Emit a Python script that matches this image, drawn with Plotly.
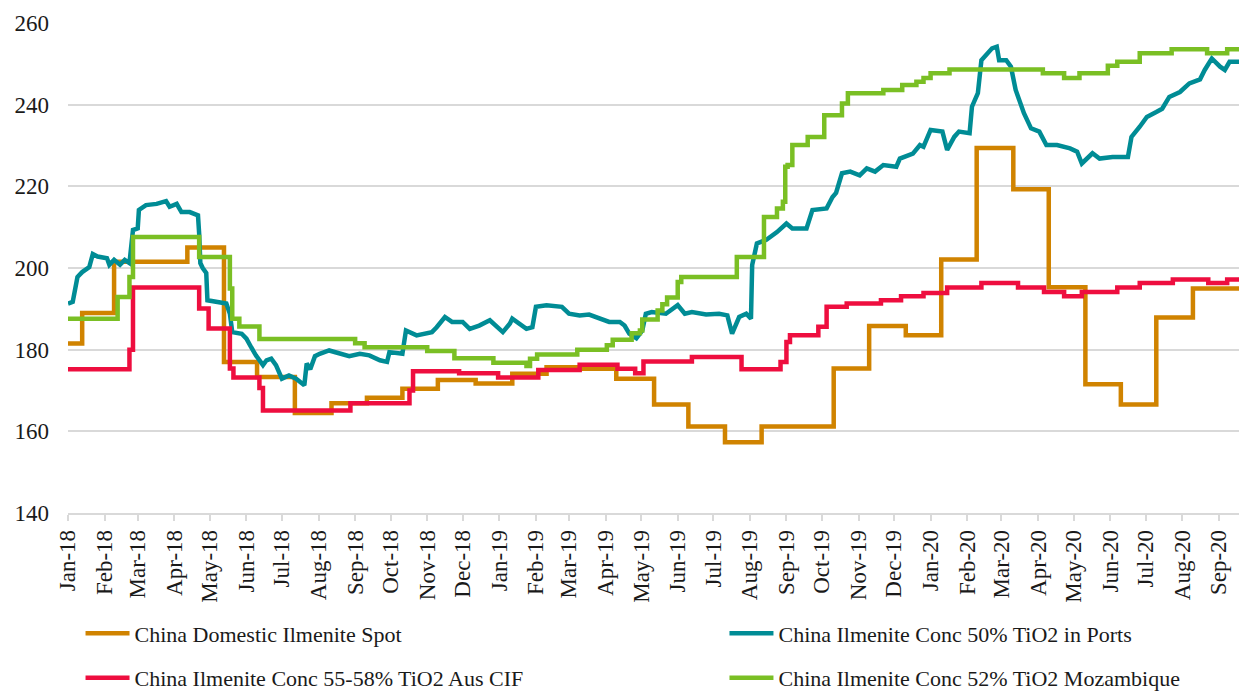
import plotly.graph_objects as go

# ---- China Domestic Ilmenite Spot (monthly price, stepped) ----
spot_dates = [
    "2018-01-01", "2018-01-13", "2018-02-09", "2018-04-12", "2018-05-13", "2018-06-10",
    "2018-07-12", "2018-08-12", "2018-09-11", "2018-10-11", "2018-11-10", "2018-12-12",
    "2019-01-12", "2019-02-10", "2019-03-10", "2019-04-10", "2019-05-12", "2019-06-10",
    "2019-07-11", "2019-08-11", "2019-10-11", "2019-11-10", "2019-12-11", "2020-01-10",
    "2020-02-09", "2020-03-11", "2020-04-10", "2020-05-11", "2020-06-10", "2020-07-10",
    "2020-08-10", "2020-09-18",
]
spot_values = [
    181.5, 189.0, 201.5, 205.0, 177.0, 173.3,
    164.5, 166.9, 168.2, 170.4, 172.6, 171.7,
    174.1, 175.7, 175.3, 172.9, 166.6, 161.2,
    157.3, 161.2, 175.4, 185.8, 183.5, 202.1,
    229.4, 219.3, 195.3, 171.5, 166.6, 187.9,
    195.0, 195.0,
]

# ---- China Ilmenite Conc 50% TiO2 in Ports (daily assessment) ----
ports_dates = [
    "2018-01-01", "2018-01-05", "2018-01-09", "2018-01-13", "2018-01-19", "2018-01-22",
    "2018-01-26", "2018-02-03", "2018-02-05", "2018-02-09", "2018-02-14", "2018-02-18",
    "2018-02-22", "2018-02-25", "2018-03-01", "2018-03-02", "2018-03-08", "2018-03-17",
    "2018-03-25", "2018-03-28", "2018-04-03", "2018-04-07", "2018-04-14", "2018-04-21",
    "2018-04-22", "2018-04-23", "2018-04-25", "2018-04-28", "2018-04-29", "2018-05-09",
    "2018-05-15", "2018-05-18", "2018-05-20", "2018-05-28", "2018-06-01", "2018-06-05",
    "2018-06-09", "2018-06-15", "2018-06-18", "2018-06-22", "2018-06-26", "2018-07-01",
    "2018-07-07", "2018-07-13", "2018-07-18", "2018-07-20", "2018-07-22", "2018-07-25",
    "2018-07-29", "2018-08-02", "2018-08-10", "2018-08-19", "2018-08-27", "2018-09-05",
    "2018-09-13", "2018-09-22", "2018-09-28", "2018-09-30", "2018-10-11", "2018-10-14",
    "2018-10-23", "2018-11-05", "2018-11-09", "2018-11-16", "2018-11-22", "2018-12-01",
    "2018-12-07", "2018-12-15", "2018-12-24", "2019-01-04", "2019-01-10", "2019-01-12",
    "2019-01-24", "2019-01-29", "2019-02-01", "2019-02-10", "2019-02-23", "2019-03-01",
    "2019-03-10", "2019-03-18", "2019-03-27", "2019-04-04", "2019-04-13", "2019-04-17",
    "2019-04-21", "2019-04-27", "2019-05-02", "2019-05-05", "2019-05-10", "2019-05-22",
    "2019-06-01", "2019-06-07", "2019-06-13", "2019-06-25", "2019-07-06", "2019-07-13",
    "2019-07-17", "2019-07-23", "2019-07-29", "2019-08-02", "2019-08-03", "2019-08-07",
    "2019-08-15", "2019-08-24", "2019-09-01", "2019-09-06", "2019-09-18", "2019-09-23",
    "2019-10-05", "2019-10-10", "2019-10-13", "2019-10-18", "2019-10-25", "2019-11-02",
    "2019-11-08", "2019-11-15", "2019-11-22", "2019-12-03", "2019-12-06", "2019-12-17",
    "2019-12-23", "2019-12-26", "2020-01-01", "2020-01-11", "2020-01-15", "2020-01-21",
    "2020-01-25", "2020-02-03", "2020-02-05", "2020-02-10", "2020-02-13", "2020-02-18",
    "2020-02-22", "2020-02-26", "2020-02-28", "2020-03-05", "2020-03-09", "2020-03-13",
    "2020-03-20", "2020-03-26", "2020-04-02", "2020-04-08", "2020-04-17", "2020-04-28",
    "2020-05-04", "2020-05-08", "2020-05-13", "2020-05-17", "2020-05-23", "2020-06-03",
    "2020-06-16", "2020-06-19", "2020-06-26", "2020-07-02", "2020-07-10", "2020-07-15",
    "2020-07-21", "2020-07-30", "2020-08-07", "2020-08-16", "2020-08-20", "2020-08-26",
    "2020-09-02", "2020-09-06", "2020-09-10", "2020-09-18",
]
ports_values = [
    191.3, 191.7, 197.8, 199.0, 200.2, 203.4,
    202.8, 202.4, 200.8, 202.0, 200.8, 202.0,
    201.2, 209.3, 209.7, 214.2, 215.4, 215.7,
    216.4, 215.0, 215.7, 213.7, 213.7, 212.9,
    208.4, 201.2, 200.0, 198.8, 192.1, 191.7,
    191.3, 188.8, 184.3, 183.9, 182.7, 180.6,
    178.6, 176.2, 177.4, 177.8, 176.2, 172.9,
    173.7, 172.9, 171.7, 171.3, 176.6, 175.2,
    178.4, 179.0, 179.8, 179.0, 178.4, 179.0,
    178.6, 177.4, 177.0, 179.4, 179.0, 184.7,
    183.5, 184.3, 185.5, 188.0, 186.8, 186.8,
    185.1, 185.9, 187.2, 184.3, 186.4, 187.6,
    185.1, 185.5, 190.5, 190.9, 190.5, 188.8,
    188.4, 188.6, 187.6, 186.8, 186.8, 185.9,
    183.9, 182.8, 184.7, 188.8, 189.2, 188.8,
    190.9, 188.8, 189.2, 188.6, 188.8, 188.4,
    183.9, 188.0, 188.8, 187.6, 200.7, 206.0,
    206.9, 208.8, 210.9, 209.7, 209.7, 214.2,
    214.6, 217.4, 218.4, 223.2, 223.6, 222.7,
    224.4, 223.6, 225.2, 224.8, 226.8, 228.0,
    230.1, 229.7, 233.8, 233.4, 228.9, 232.1,
    233.4, 233.0, 239.5, 242.8, 250.9, 252.6,
    253.8, 254.2, 250.9, 250.9, 249.3, 243.6,
    237.9, 234.2, 233.4, 230.1, 230.1, 229.3,
    228.5, 225.6, 227.2, 228.1, 226.8, 227.2,
    227.2, 232.1, 234.6, 237.0, 238.2, 239.0,
    241.9, 243.1, 245.2, 246.2, 248.5, 251.3,
    249.3, 248.5, 250.5, 250.5,
]

# ---- China Ilmenite Conc 55-58% TiO2 Aus CIF (stepped) ----
aus_dates = [
    "2018-01-01", "2018-02-20", "2018-02-22", "2018-02-25", "2018-04-22", "2018-04-30",
    "2018-05-18", "2018-05-21", "2018-06-12", "2018-06-15", "2018-08-28", "2018-10-17",
    "2018-10-20", "2018-11-28", "2018-12-31", "2019-02-03", "2019-03-10", "2019-04-11",
    "2019-04-26", "2019-05-03", "2019-06-13", "2019-07-25", "2019-08-24", "2019-08-27",
    "2019-09-01", "2019-09-04", "2019-09-28", "2019-10-05", "2019-10-22", "2019-11-20",
    "2019-12-07", "2019-12-26", "2020-01-15", "2020-02-13", "2020-03-15", "2020-04-06",
    "2020-04-23", "2020-05-08", "2020-06-07", "2020-06-26", "2020-07-24", "2020-08-23",
    "2020-09-08", "2020-09-18",
]
aus_values = [
    175.2, 175.2, 180.0, 195.2, 190.1, 185.2,
    175.4, 173.2, 170.6, 165.1, 166.9, 170.0,
    174.7, 174.2, 173.2, 175.0, 176.3, 175.3,
    174.2, 177.1, 178.2, 175.2, 175.2, 177.0,
    181.9, 183.5, 185.6, 190.5, 191.3, 192.1,
    193.1, 193.9, 195.2, 196.3, 195.2, 194.1,
    193.1, 194.1, 195.2, 196.3, 197.2, 196.3,
    197.2, 197.2,
]

# ---- China Ilmenite Conc 52% TiO2 Mozambique (stepped) ----
moz_dates = [
    "2018-01-01", "2018-02-12", "2018-02-22", "2018-02-25", "2018-04-22", "2018-05-18",
    "2018-05-20", "2018-05-26", "2018-06-12", "2018-09-01", "2018-09-09", "2018-11-01",
    "2018-11-24", "2018-12-27", "2019-01-24", "2019-01-27", "2019-02-02", "2019-03-08",
    "2019-04-02", "2019-04-07", "2019-04-23", "2019-04-30", "2019-05-02", "2019-05-15",
    "2019-05-19", "2019-05-23", "2019-06-01", "2019-06-04", "2019-07-21", "2019-08-13",
    "2019-08-24", "2019-08-29", "2019-08-31", "2019-09-02", "2019-09-06", "2019-09-19",
    "2019-10-03", "2019-10-18", "2019-10-23", "2019-11-22", "2019-12-08", "2019-12-20",
    "2019-12-26", "2020-01-01", "2020-01-17", "2020-04-05", "2020-04-23", "2020-05-06",
    "2020-05-30", "2020-06-07", "2020-06-26", "2020-07-23", "2020-08-22", "2020-09-08",
    "2020-09-18",
]
moz_values = [
    187.6, 192.9, 197.8, 207.6, 202.7, 195.0,
    187.6, 185.7, 182.6, 181.6, 180.6, 179.7,
    177.9, 176.8, 176.0, 177.8, 178.8, 180.0,
    181.1, 182.4, 184.0, 184.7, 187.4, 189.6,
    191.1, 192.8, 196.6, 197.8, 202.7, 212.5,
    214.6, 216.2, 224.8, 225.2, 230.1, 232.1,
    237.4, 240.3, 242.8, 243.6, 244.8, 245.6,
    246.5, 247.7, 248.6, 247.7, 246.5, 247.7,
    249.5, 250.5, 252.6, 253.6, 252.6, 253.6,
    253.6,
]

y_ticks = [140, 160, 180, 200, 220, 240, 260]

FONT = "Liberation Serif, Georgia, serif"
GRID = "#d9d9d9"
TEXT = "#1a1a1a"

fig = go.Figure()

series = [
    ("China Domestic Ilmenite Spot", spot_dates, spot_values, "#D08300", "hv", "legend"),
    ("China Ilmenite Conc 50% TiO2 in Ports", ports_dates, ports_values, "#008C95", "linear", "legend2"),
    ("China Ilmenite Conc 55-58% TiO2 Aus CIF", aus_dates, aus_values, "#EE0E3F", "hv", "legend"),
    ("China Ilmenite Conc 52% TiO2 Mozambique", moz_dates, moz_values, "#7ABF24", "hv", "legend2"),
]
for name, xs, ys, color, shape, leg in series:
    fig.add_trace(go.Scatter(
        x=xs, y=ys, name=name, mode="lines",
        line=dict(color=color, width=4.5, shape=shape),
        legend=leg, legendgroup=name,
    ))

legend_style = dict(
    y=-0.203, xanchor="left", yanchor="top",
    orientation="v", tracegroupgap=13, itemwidth=44,
    bgcolor="rgba(0,0,0,0)",
    font=dict(family=FONT, size=22, color=TEXT),
)

fig.update_layout(
    width=1239, height=693,
    margin=dict(l=68, r=0, t=23, b=180, autoexpand=False),
    paper_bgcolor="white", plot_bgcolor="white",
    font=dict(family=FONT, size=23, color=TEXT),
    showlegend=True,
    legend=dict(x=0.0107, **legend_style),
    legend2=dict(x=0.5606, **legend_style),
)

fig.update_xaxes(
    type="date",
    range=["2018-01-01", "2020-09-18"],
    tick0="2018-01-01", dtick="M1", tickformat="%b-%y",
    tickangle=-90,
    ticks="outside", ticklen=6, tickcolor=GRID, tickwidth=1.5,
    showgrid=False, zeroline=False,
    showline=True, linecolor=GRID, linewidth=1.5,
    tickfont=dict(family=FONT, size=23, color=TEXT),
)
fig.update_yaxes(
    range=[140, 260], tickvals=y_ticks,
    showgrid=True, gridcolor=GRID, gridwidth=1.5,
    zeroline=False, showline=False, ticks="",
    ticklabelstandoff=18,
    tickfont=dict(family=FONT, size=23, color=TEXT),
)

fig.write_html("out.html")
